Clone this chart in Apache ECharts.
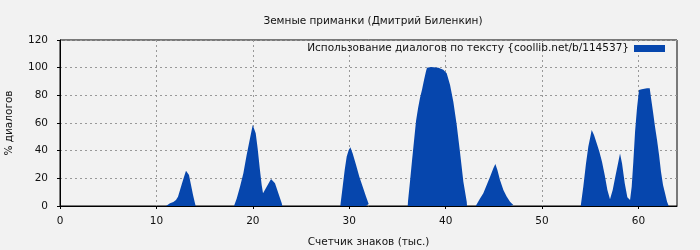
<!DOCTYPE html>
<html>
<head>
<meta charset="utf-8">
<script src="https://cdn.jsdelivr.net/npm/echarts@6/dist/echarts.min.js"></script>
<style>
html,body{margin:0;padding:0;background:#f2f2f2;}
#chart{width:700px;height:250px;}
</style>
</head>
<body>
<div id="chart"></div>
<script>
// Chart texts
var chartTitle = 'Земные приманки (Дмитрий Биленкин)';
var seriesName = 'Использование диалогов по тексту {coollib.net/b/114537}';
var xAxisName = 'Счетчик знаков (тыс.)';
var yAxisName = '% диалогов';
var xTicks = [0, 10, 20, 30, 40, 50, 60];
var yTicks = [0, 20, 40, 60, 80, 100, 120];

// Character counter (thousands) and % of dialogue.
// null marks a stretch with no dialogue between two bursts.
var charsK = [
  11.0, 11.07, 11.41, 11.76, 12.03, 12.24, 12.45, 12.66, 12.86, 13.07, 13.17, 13.38, 13.59, 13.8, 14.0, 14.07, 16,
  18.05, 18.08, 18.33, 18.67, 19.02, 19.36, 19.71, 19.99, 20.09, 20.3, 20.5, 20.72, 20.92, 21.06, 21.19, 21.54, 21.89, 22.02, 22.3, 22.65, 23.0, 23.06, 26,
  29.08, 29.11, 29.32, 29.53, 29.74, 29.95, 30.12, 30.36, 30.71, 31.05, 31.4, 31.74, 32.02, 32.1, 34,
  36.07, 36.1, 36.31, 36.51, 36.72, 36.93, 37.14, 37.34, 37.55, 37.76, 37.97, 38.07, 38.5, 39.25, 39.76, 40.11, 40.46, 40.8, 41.15, 41.49, 41.84, 42.19, 42.22, 42.7,
  43.12, 43.15, 43.57, 43.91, 44.26, 44.61, 44.95, 45.16, 45.37, 45.64, 45.99, 46.33, 46.68, 47.02, 47.1, 50,
  54.02, 54.05, 54.28, 54.56, 54.8, 55.05, 55.15, 55.39, 55.67, 55.95, 56.22, 56.5, 56.78, 57.05, 57.12, 57.33, 57.6, 57.88, 58.09, 58.3, 58.58, 58.85, 59.13,
  59.3, 59.47, 59.65, 59.85, 60.06, 60.34, 60.89, 61.17, 61.31, 61.51, 61.72, 61.93, 62.14, 62.34, 62.55, 62.76, 62.97, 63.14
];
var dialogPct = [
  0, 1, 2, 2.9, 4.3, 6.7, 11.6, 16.4, 21, 25.5, 25.8, 22.4, 15.2, 8, 2, 0, null,
  0, 1.2, 5.5, 14, 23.6, 36.9, 49, 58.6, 59.3, 52.6, 41.7, 27.2, 15.2, 9.2, 9.2, 15.2, 19.5, 20.5, 16.4, 9.2, 2, 0, null,
  0, 2, 14, 26, 35.7, 40.5, 42.4, 38, 29.6, 21.2, 14, 6.8, 1.4, 0, null,
  0, 3.6, 18, 32.5, 47, 61.5, 70.6, 78, 84, 91, 97.6, 100, 100.5, 100, 98.5, 96, 87.5, 75.4, 58.6, 39, 17.6, 3, 0, null,
  0, 1.4, 5.5, 9.2, 15.2, 21.2, 27.2, 30.4, 26, 18.8, 11.6, 6.8, 3.1, 0.7, 0, null,
  0, 2, 14, 30.8, 42.9, 51.3, 55, 51.3, 45.3, 39.3, 32, 22.4, 11.6, 4.8, 4.3, 11.6, 21.2, 30.8, 38, 30.8, 16.4, 6.3, 4.3,
  14, 32, 53.7, 70.6, 83.9, 84.4, 85.1, 85.1, 77.9, 68.2, 57.3, 47.7, 36.9, 24.8, 15.2, 9.2, 3.1, 0
];

var seriesData = charsK.map(function (x, i) { return [x, dialogPct[i] === null ? '-' : dialogPct[i]]; });

var FONT = 'DejaVu Sans';
var FS = 10.5;
var BLUE = '#0646ad';
var chart = echarts.init(document.getElementById('chart'), null, {renderer: 'canvas'});
chart.setOption({
  backgroundColor: '#f2f2f2',
  animation: false,
  textStyle: {fontFamily: FONT},
  title: {
    text: chartTitle,
    left: 368, top: 11, textAlign: 'center',
    textStyle: {fontFamily: FONT, fontSize: FS, fontWeight: 'normal', color: '#111'}
  },
  legend: {
    data: [{name: seriesName, icon: 'rect'}],
    right: 30, top: 38,
    align: 'right',
    itemWidth: 31, itemHeight: 7, itemGap: 5,
    textStyle: {fontFamily: FONT, fontSize: FS, color: '#111'}
  },
  grid: {
    left: 60, right: 23, top: 40, bottom: 44,
    outerBoundsMode: 'none', containLabel: false,
    show: true, borderColor: '#000', borderWidth: 1, backgroundColor: 'transparent'
  },
  xAxis: {
    type: 'value', min: 0, max: 64, interval: 10,
    name: xAxisName, nameLocation: 'middle', nameGap: 31,
    nameTextStyle: {fontFamily: FONT, fontSize: FS, color: '#111'},
    axisLine: {show: true, lineStyle: {color: '#000', width: 1}},
    axisTick: {show: true, length: 3, lineStyle: {color: '#000'}, customValues: xTicks},
    axisLabel: {fontFamily: FONT, fontSize: FS, color: '#111', margin: 10, customValues: xTicks},
    splitLine: {show: true, lineStyle: {color: '#999', type: [2, 3], width: 1}}
  },
  yAxis: {
    type: 'value', min: 0, max: 120, interval: 20,
    name: yAxisName, nameLocation: 'middle', nameGap: 45, nameRotate: 90,
    nameTextStyle: {fontFamily: FONT, fontSize: FS, color: '#111'},
    axisLine: {show: true, lineStyle: {color: '#000', width: 1}},
    axisTick: {show: true, length: 3, lineStyle: {color: '#000'}},
    axisLabel: {fontFamily: FONT, fontSize: FS, color: '#111', margin: 12, formatter: function (v) { return yTicks.indexOf(v) >= 0 ? String(v) : ''; }},
    splitLine: {show: true, lineStyle: {color: '#999', type: [2, 3], width: 1}}
  },
  series: [{
    name: seriesName,
    type: 'line',
    data: seriesData,
    connectNulls: false,
    showSymbol: false,
    symbol: 'none',
    itemStyle: {color: BLUE},
    lineStyle: {color: BLUE, width: 0, opacity: 0},
    areaStyle: {color: BLUE, opacity: 1},
    z: 1
  }]
});
</script>
</body>
</html>
